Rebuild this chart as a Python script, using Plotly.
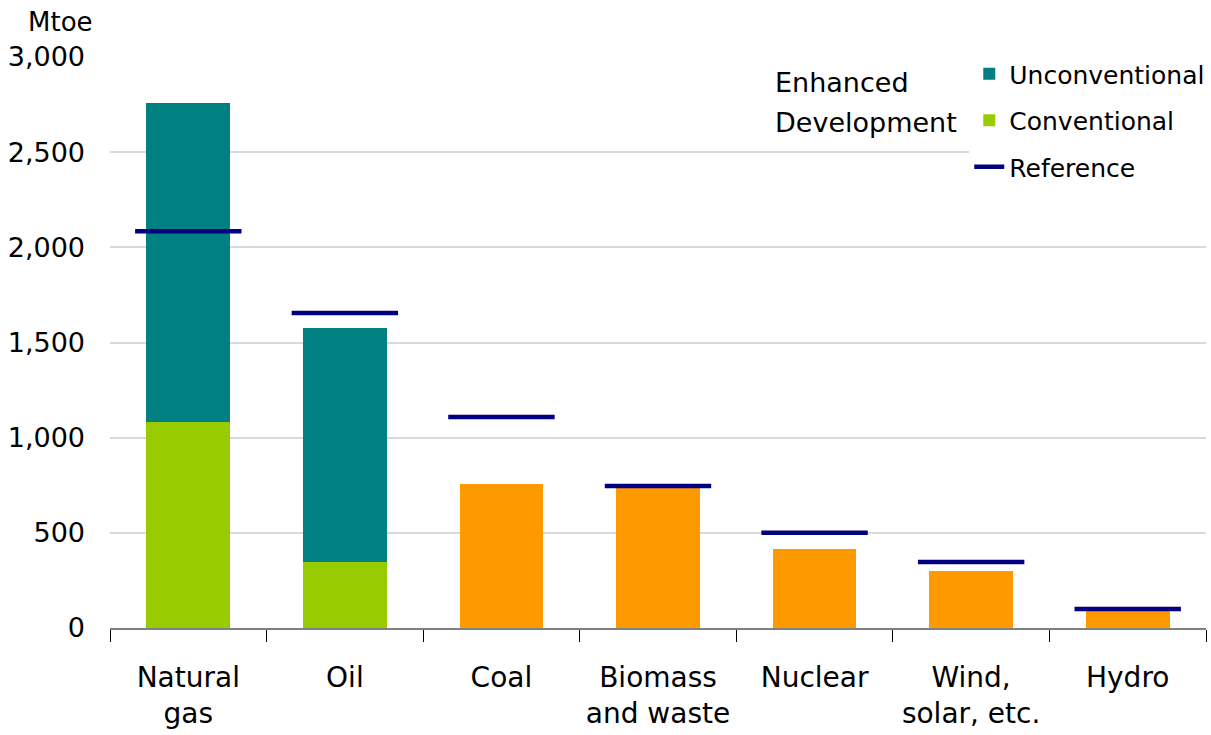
import plotly.graph_objects as go

categories = ["Natural<br>gas", "Oil", "Coal", "Biomass<br>and waste", "Nuclear", "Wind,<br>solar, etc.", "Hydro"]
conv_cats = ["Natural<br>gas", "Oil"]
conventional = [1082, 347]
unconventional = [1678, 1229]  # stacked on top of conventional
other_cats = ["Coal", "Biomass<br>and waste", "Nuclear", "Wind,<br>solar, etc.", "Hydro"]
other_values = [757, 740, 415, 300, 90]
reference = [2085, 1655, 1109, 746, 500, 347, 100]

FONT = "DejaVu Sans"
TEAL = "#008080"
GREEN = "#99CC00"
ORANGE = "#FF9900"
NAVY = "#000080"

fig = go.Figure()
fig.add_trace(go.Bar(x=conv_cats, y=conventional, name="Conventional",
                     legendgroup="b", legendrank=2,
                     marker=dict(color=GREEN, line=dict(width=0))))
fig.add_trace(go.Bar(x=conv_cats, y=unconventional, name="Unconventional",
                     legendgroup="a", legendrank=1,
                     marker=dict(color=TEAL, line=dict(width=0))))
fig.add_trace(go.Bar(x=other_cats, y=other_values, name="Other", showlegend=False,
                     marker=dict(color=ORANGE, line=dict(width=0))))
fig.add_trace(go.Scatter(x=categories, y=reference, mode="markers", showlegend=False,
                         marker=dict(symbol="line-ew", size=76, color=NAVY,
                                     line=dict(width=4.5, color=NAVY))))
fig.add_trace(go.Scatter(x=[None], y=[None], mode="lines", name="Reference",
                         legendgroup="c", legendrank=3,
                         line=dict(color=NAVY, width=4.5)))

fig.update_layout(
    barmode="stack",
    bargap=0.465,
    width=1211, height=735,
    margin=dict(l=110, r=1, t=57, b=107),
    plot_bgcolor="white", paper_bgcolor="white",
    font=dict(family=FONT, size=25, color="black"),
    showlegend=True,
    legend=dict(x=0.784, y=1.0105, xanchor="left", yanchor="top",
                bgcolor="white", font=dict(size=25), traceorder="grouped",
                tracegroupgap=11, itemwidth=30, borderwidth=0),
    xaxis=dict(type="category", categoryorder="array", categoryarray=categories,
               range=[-0.5, 6.5],
               showline=True, linecolor="#808080", linewidth=2,
               ticks="outside", tickson="boundaries", ticklen=12, tickcolor="black",
               tickfont=dict(size=28), showgrid=False, ticklabelstandoff=23),
    yaxis=dict(range=[0, 3000], tickvals=[0, 500, 1000, 1500, 2000, 2500, 3000],
               ticktext=["0", "500", "1,000", "1,500", "2,000", "2,500", "3,000"],
               showgrid=True, gridcolor="#D9D9D9", gridwidth=1.5,
               zeroline=False, showline=False, ticks="", tickfont=dict(size=27),
               ticklabelstandoff=24),
    annotations=[
        dict(text="Mtoe", xref="paper", yref="paper", x=-0.045, y=1.0,
             xanchor="center", yanchor="middle", showarrow=False,
             font=dict(size=26), yshift=35),
        dict(text="Enhanced", xref="paper", yref="paper",
             x=0.605, y=0.956, xanchor="left", yanchor="middle", align="left",
             showarrow=False, font=dict(size=27)),
        dict(text="Development", xref="paper", yref="paper",
             x=0.605, y=0.886, xanchor="left", yanchor="middle", align="left",
             showarrow=False, font=dict(size=27)),
    ],
)

fig.write_html("out.html")
